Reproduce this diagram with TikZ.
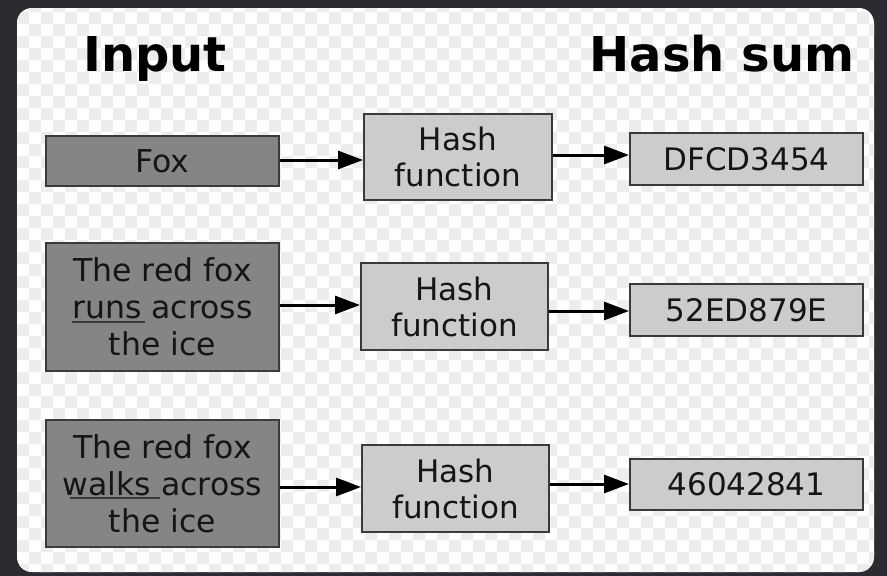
\documentclass[tikz,border=0pt]{standalone}
\usepackage{fontspec}
\setmainfont{DejaVu Sans}
\usetikzlibrary{arrows.meta}
\definecolor{bgdark}{HTML}{2A2C32}
\definecolor{chk}{HTML}{EDEDED}
\definecolor{inpfill}{HTML}{858585}
\definecolor{boxfill}{HTML}{CCCCCC}
\definecolor{edge}{HTML}{3A3A3A}
\definecolor{txt}{HTML}{151515}
\tikzset{
  inbox/.style={draw=edge, line width=2pt, fill=inpfill, inner sep=0pt, minimum width=233pt, align=center, text=txt, font=\fontsize{31.5}{37}\selectfont},
  hbox/.style={draw=edge, line width=2pt, fill=boxfill, inner sep=0pt, minimum width=187pt, minimum height=87pt, align=center, text=txt, font=\fontsize{31}{36}\selectfont},
  outbox/.style={draw=edge, line width=2pt, fill=boxfill, inner sep=0pt, minimum width=233pt, minimum height=52pt, align=center, text=txt, font=\fontsize{31}{36}\selectfont},
  title/.style={anchor=base, font=\fontsize{48}{52}\selectfont\bfseries, text=black},
  arr/.style={line width=3pt, -{Triangle[length=25pt,width=18pt]}},
  uline/.style={line width=1.8pt, draw=edge}
}
\begin{document}
\begin{tikzpicture}[x=1pt,y=-1pt]
\useasboundingbox (0,0) rectangle (887,576);
\fill[bgdark] (0,0) rectangle (887,576);
\fill[white, rounded corners=15pt] (17,8) rectangle (874,572);
\begin{scope}
\clip[rounded corners=15pt] (17,8) rectangle (874,572);
\foreach \i in {0,...,73}{
  \foreach \j in {0,...,47}{
    \pgfmathtruncatemacro{\m}{mod(\i+\j,2)}
    \ifnum\m=0
      \fill[chk] (\i*12+5,\j*12) rectangle ++(12,12);
    \fi
  }
}
\end{scope}

\node[title] (tin) at (155,71) {Input};
\node[title] (tout) at (722,71) {Hash sum};

\node[inbox, minimum height=50pt] (in1) at (162.5,161) {Fox};
\node[inbox, minimum height=128pt] (in2) at (162.5,307) {The red fox\\runs across\\the ice};
\node[inbox, minimum height=127pt] (in3) at (162.5,483.5) {The red fox\\walks across\\the ice};

\node[hbox, minimum width=188pt, minimum height=86pt] (h1) at (458,157) {Hash\\function};
\node[hbox] (h2) at (454.5,306.5) {Hash\\function};
\node[hbox] (h3) at (455.5,488.5) {Hash\\function};

\node[outbox] (o1) at (746.5,159) {DFCD3454};
\node[outbox] (o2) at (746.5,310) {52ED879E};
\node[outbox, minimum height=51pt] (o3) at (746.5,484.5) {46042841};

\draw[uline] (72,322) -- (145,322);
\draw[uline] (70,498) -- (160,498);

\draw[arr] (in1.east |- 0,160) -- (h1.west |- 0,160);
\draw[arr] (h1.east |- 0,155) -- (o1.west |- 0,155);
\draw[arr] (in2.east |- 0,305) -- (h2.west |- 0,305);
\draw[arr] (h2.east |- 0,311) -- (o2.west |- 0,311);
\draw[arr] (in3.east |- 0,487) -- (h3.west |- 0,487);
\draw[arr] (h3.east |- 0,484) -- (o3.west |- 0,484);
\end{tikzpicture}
\end{document}
